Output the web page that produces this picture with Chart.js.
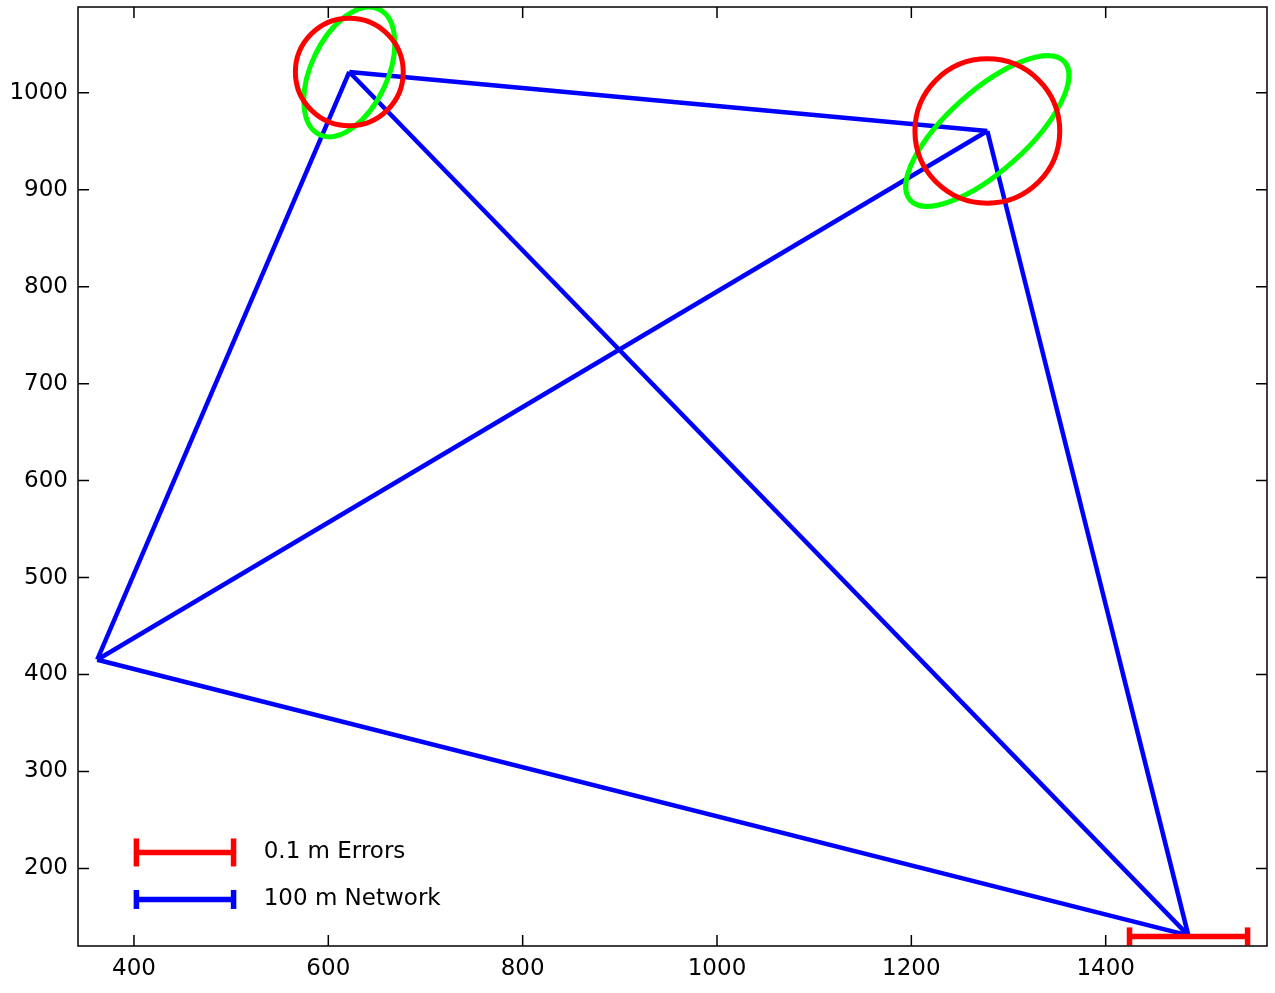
<!DOCTYPE html>
<html>
<head>
<meta charset="utf-8">
<script src="https://cdn.jsdelivr.net/npm/chart.js@4"></script>
<style>
  html, body { margin: 0; padding: 0; background: #fff; }
</style>
</head>
<body>
<canvas id="chart" width="1275" height="993"></canvas>
<script>
// network stations (plot units)
const stationX = [362.2, 621.6, 1278.2, 1485.0];
const stationY = [415.3, 1021.5, 960.6, 131.0];
// baselines between stations
const edgeFrom = [0, 1, 2, 3, 0, 1];
const edgeTo   = [1, 2, 3, 0, 2, 3];

// error ellipses at stations 1 and 2 (semi-axes in plot units, angle in degrees)
const ellipseStation = [1, 2];
const greenMajor = [71.5, 106.7];
const greenMinor = [39.3, 41.2];
const greenAngle = [64.8, 42];
const redRadius = [55.5, 74.5];

// horizontal error bar at station 3
const barX = [1424.5, 1546.0];
const barY = [129.9, 129.9];

// scale bars for the legend
const legendX = [402.5, 502.5];
const legendErrY = 216.5;
const legendNetY = 168.0;
const legendTextX = 533.5;
const legendLabels = ['0.1 m Errors', '100 m Network'];

const xTicks = [400, 600, 800, 1000, 1200, 1400];
const yTicks = [200, 300, 400, 500, 600, 700, 800, 900, 1000];
const xRange = [342.4, 1566];
const yRange = [120, 1088.5];

const BLUE = '#0000ff';
const RED = '#ff0000';
const GREEN = '#00ff00';

Chart.defaults.font.family = '"DejaVu Sans", sans-serif';
Chart.defaults.font.size = 23;
Chart.defaults.color = '#000';

/**
 * Build datasets
 */
const datasets = edgeFrom.map((a, i) => ({
    data: [
        { x: stationX[a], y: stationY[a] },
        { x: stationX[edgeTo[i]], y: stationY[edgeTo[i]] }
    ],
    showLine: true,
    borderColor: BLUE,
    borderWidth: 4.5,
    pointRadius: 0,
    order: 3
}));

function scaleBar(xs, ys, color, capRadius) {
    return {
        data: xs.map((v, i) => ({ x: v, y: ys[i] })),
        showLine: true,
        borderColor: color,
        borderWidth: 5.5,
        pointStyle: 'line',
        pointRotation: 90,
        pointRadius: capRadius,
        pointBorderWidth: 5.5,
        pointBorderColor: color,
        pointBackgroundColor: color,
        order: 1
    };
}

datasets.push(scaleBar(barX, barY, RED, 9));
datasets.push(scaleBar(legendX, [legendErrY, legendErrY], RED, 14));
datasets.push(scaleBar(legendX, [legendNetY, legendNetY], BLUE, 9.5));

/**
 * Ellipses, frame, inward ticks and legend text
 */
const overlay = {
    id: 'overlay',
    afterDatasetsDraw(chart) {
        const { ctx, chartArea, scales: { x, y } } = chart;
        const sx = x.getPixelForValue(1) - x.getPixelForValue(0);
        const sy = y.getPixelForValue(0) - y.getPixelForValue(1);
        ctx.save();
        ctx.beginPath();
        ctx.rect(chartArea.left, chartArea.top, chartArea.width, chartArea.height);
        ctx.clip();
        ctx.lineWidth = 5;

        const shape = (s, a, b, ang, color) => {
            const cx = x.getPixelForValue(stationX[s]);
            const cy = y.getPixelForValue(stationY[s]);
            ctx.save();
            ctx.translate(cx, cy);
            ctx.scale(sx, -sy);
            ctx.beginPath();
            ctx.ellipse(0, 0, a, b, ang * Math.PI / 180, 0, 2 * Math.PI);
            ctx.restore();
            ctx.strokeStyle = color;
            ctx.stroke();
        };

        ellipseStation.forEach((s, i) => shape(s, greenMajor[i], greenMinor[i], greenAngle[i], GREEN));
        ellipseStation.forEach((s, i) => shape(s, redRadius[i], redRadius[i], 0, RED));
        ctx.restore();
    },
    afterDraw(chart) {
        const { ctx, chartArea: { left, right, top, bottom }, scales: { x, y } } = chart;
        const tl = 11;
        ctx.save();
        ctx.strokeStyle = '#000';
        ctx.lineWidth = 1.5;
        ctx.beginPath();
        xTicks.forEach(v => {
            const px = x.getPixelForValue(v);
            ctx.moveTo(px, bottom); ctx.lineTo(px, bottom - tl);
            ctx.moveTo(px, top); ctx.lineTo(px, top + tl);
        });
        yTicks.forEach(v => {
            const py = y.getPixelForValue(v);
            ctx.moveTo(left, py); ctx.lineTo(left + tl, py);
            ctx.moveTo(right, py); ctx.lineTo(right - tl, py);
        });
        ctx.stroke();
        ctx.strokeRect(left, top, right - left, bottom - top);

        ctx.fillStyle = '#000';
        ctx.font = '23px "DejaVu Sans"';
        ctx.textBaseline = 'middle';
        ctx.textAlign = 'left';
        ctx.fillText(legendLabels[0], x.getPixelForValue(legendTextX), y.getPixelForValue(legendErrY));
        ctx.fillText(legendLabels[1], x.getPixelForValue(legendTextX), y.getPixelForValue(legendNetY));
        ctx.restore();
    }
};

const noPadding = s => {
    s.paddingTop = 0; s.paddingBottom = 0;
    s.paddingLeft = 0; s.paddingRight = 0;
};

new Chart(document.getElementById('chart'), {
    type: 'scatter',
    data: { datasets },
    options: {
        responsive: false,
        animation: false,
        layout: { autoPadding: false, padding: { top: 7, right: 8, left: 0, bottom: 0 } },
        plugins: {
            legend: { display: false },
            tooltip: { enabled: false }
        },
        scales: {
            x: {
                type: 'linear',
                min: xRange[0],
                max: xRange[1],
                grid: { display: false, drawTicks: false },
                border: { display: false },
                ticks: { padding: 9, maxRotation: 0, callback: v => String(v) },
                afterBuildTicks: s => { s.ticks = xTicks.map(v => ({ value: v })); },
                afterFit: s => { s.height = 47; noPadding(s); }
            },
            y: {
                type: 'linear',
                min: yRange[0],
                max: yRange[1],
                grid: { display: false, drawTicks: false },
                border: { display: false },
                ticks: { padding: 10, callback: v => String(v) },
                afterBuildTicks: s => { s.ticks = yTicks.map(v => ({ value: v })); },
                afterFit: s => { s.width = 78; noPadding(s); }
            }
        }
    },
    plugins: [overlay]
});
</script>
</body>
</html>
